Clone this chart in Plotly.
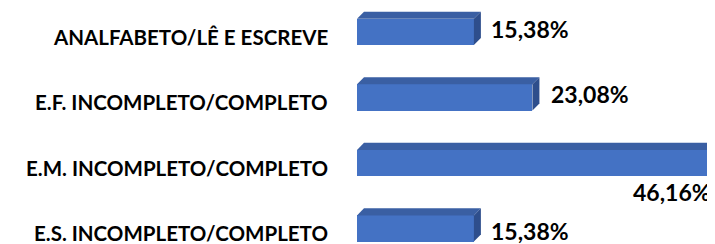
import plotly.graph_objects as go

categories = ["ANALFABETO/LÊ E ESCREVE", "E.F. INCOMPLETO/COMPLETO",
              "E.M. INCOMPLETO/COMPLETO", "E.S. INCOMPLETO/COMPLETO"]
values = [15.38, 23.08, 46.16, 15.38]
value_labels = ["15,38%", "23,08%", "46,16%", "15,38%"]

# style
FRONT = "#4472C4"
TOP = "#3A5FA3"
SIDE = "#2E4E8C"
FONT = "Lato"
BAR_H = 0.40      # bar thickness in category units
DX = 0.92         # 3D depth along x (data units)
DY = 0.107        # 3D depth along y (category units)

ypos = list(range(len(categories)))

fig = go.Figure()
fig.add_trace(go.Bar(x=values, y=ypos, orientation="h", width=BAR_H,
                     marker=dict(color=FRONT, line=dict(width=0)),
                     hoverinfo="skip"))

for v, c in zip(values, ypos):
    top = c - BAR_H / 2
    bot = c + BAR_H / 2
    fig.add_trace(go.Scatter(x=[0, v, v + DX, DX, 0], y=[top, top, top - DY, top - DY, top],
                             mode="lines", fill="toself", fillcolor=TOP,
                             line=dict(width=0), hoverinfo="skip"))
    fig.add_trace(go.Scatter(x=[v, v + DX, v + DX, v, v], y=[top, top - DY, bot - DY, bot, top],
                             mode="lines", fill="toself", fillcolor=SIDE,
                             line=dict(width=0), hoverinfo="skip"))

# category labels
for cat, c in zip(categories, ypos):
    fig.add_annotation(x=0, y=c, xref="x", yref="y", text=cat, showarrow=False,
                       xanchor="right", yanchor="middle", xshift=-27, yshift=-5,
                       font=dict(family=FONT, size=20.5, color="#000000", weight=700))

# value labels
label_pos = [("left", 8, 3), ("left", 10, 3), ("right", -2, -29), ("left", 8, -3)]
for v, c, t, (anc, xs, ys) in zip(values, ypos, value_labels, label_pos):
    fig.add_annotation(x=v + DX, y=c, xref="x", yref="y", text=t, showarrow=False,
                       xanchor=anc, yanchor="middle", xshift=xs, yshift=ys,
                       font=dict(family=FONT, size=23, color="#000000", weight=700))

fig.update_layout(
    width=707, height=236,
    margin=dict(l=349, r=0, t=0, b=0),
    paper_bgcolor="white", plot_bgcolor="white",
    showlegend=False,
    xaxis=dict(range=[0, 47.1], visible=False, fixedrange=True),
    yaxis=dict(range=[3.237, -0.366], visible=False, fixedrange=True),
    bargap=0,
)
fig.write_html("out.html")
